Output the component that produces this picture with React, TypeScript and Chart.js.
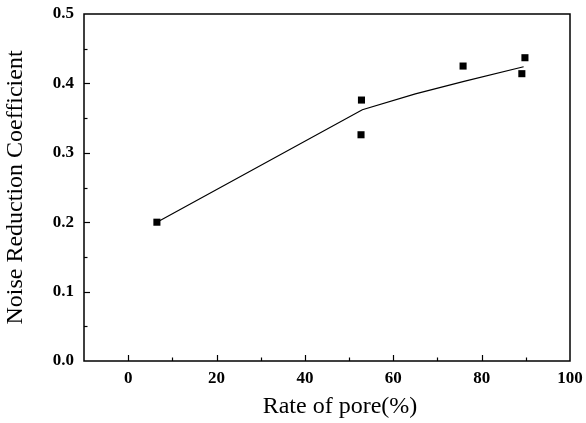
import React, { useEffect, useRef } from "react";
import { Chart, registerables } from "chart.js";

Chart.register(...registerables);

const poreRate = [6.5, 52.8, 52.7, 75.8, 89.1, 89.8];
const noiseCoef = [0.2, 0.376, 0.326, 0.425, 0.414, 0.437];
const fitX = [6.5, 53, 65, 76, 89.5];
const fitY = [0.2, 0.362, 0.385, 0.403, 0.424];
const xTicks = [0, 20, 40, 60, 80, 100];
const yTicks = [0.0, 0.1, 0.2, 0.3, 0.4, 0.5];
const xTitle = "Rate of pore(%)";
const yTitle = "Noise Reduction Coefficient";

const FONT = "'Liberation Serif', 'DejaVu Serif', serif";

const frame = {
  id: "frame",
  afterDatasetsDraw(chart: any) {
    const { ctx, chartArea: a, scales } = chart;
    ctx.save();
    ctx.strokeStyle = "#000";
    ctx.lineWidth = 1.5;
    ctx.strokeRect(a.left, a.top, a.right - a.left, a.bottom - a.top);
    ctx.lineWidth = 1.2;
    const xs = scales.x, ys = scales.y;
    for (let v = -10; v <= 100; v += 10) {
      if (v === -10 || v === 100) continue;
      const px = Math.round(xs.getPixelForValue(v)) + 0.5;
      const len = v % 20 === 0 ? 6 : 3.5;
      ctx.beginPath();
      ctx.moveTo(px, a.bottom);
      ctx.lineTo(px, a.bottom - len);
      ctx.stroke();
    }
    for (let i = 1; i < 10; i++) {
      const v = i * 0.05;
      const py = Math.round(ys.getPixelForValue(v)) + 0.5;
      const len = i % 2 === 0 ? 6 : 3.5;
      ctx.beginPath();
      ctx.moveTo(a.left, py);
      ctx.lineTo(a.left + len, py);
      ctx.stroke();
    }
    // x-axis title (slightly right of centre, as in the reference)
    ctx.fillStyle = "#000";
    ctx.font = `24px ${FONT}`;
    ctx.textAlign = "center";
    ctx.textBaseline = "alphabetic";
    ctx.fillText(xTitle, (a.left + a.right) / 2 + 13, 413);
    ctx.restore();
  },
};

export default function App() {
  const ref = useRef<HTMLCanvasElement>(null);
  useEffect(() => {
    document.body.style.margin = "0";
    const chart = new Chart(ref.current!, {
      type: "scatter",
      data: {
        datasets: [
          {
            type: "line",
            data: fitX.map((x, i) => ({ x, y: fitY[i] })),
            borderColor: "#000",
            borderWidth: 1.2,
            pointRadius: 0,
            tension: 0,
            fill: false,
          } as any,
          {
            data: poreRate.map((x, i) => ({ x, y: noiseCoef[i] })),
            pointStyle: "rect",
            pointRadius: 5,
            backgroundColor: "#000",
            borderColor: "#000",
            borderWidth: 0,
          },
        ],
      },
      options: {
        animation: false,
        responsive: false,
        layout: { padding: { top: 14, right: 16, left: 0, bottom: 0 } },
        plugins: { legend: { display: false }, tooltip: { enabled: false } },
        scales: {
          x: {
            type: "linear",
            min: -10,
            max: 100,
            grid: { display: false, drawTicks: false },
            border: { display: false },
            ticks: {
              stepSize: 10,
              padding: 7,
              color: "#000",
              font: { family: FONT, size: 17, weight: "bold" },
              callback: (v: any) => (xTicks.includes(v) ? String(v) : ""),
              maxRotation: 0,
              autoSkip: false,
            },
            title: { display: false },
            afterFit: (s: any) => {
              s.height = 62;
              s.paddingLeft = 0;
              s.paddingRight = 0;
            },
          },
          y: {
            type: "linear",
            min: 0,
            max: 0.5,
            grid: { display: false, drawTicks: false },
            border: { display: false },
            ticks: {
              stepSize: 0.05,
              padding: 10,
              color: "#000",
              font: { family: FONT, size: 17, weight: "bold" },
              callback: (v: any) => {
                const m = yTicks.find((t) => Math.abs(t - v) < 1e-6);
                return m !== undefined ? m.toFixed(1) : "";
              },
              autoSkip: false,
            },
            title: {
              display: true,
              text: yTitle,
              color: "#000",
              font: { family: FONT, size: 24 },
              padding: { top: 1, bottom: 4 },
            },
            afterFit: (s: any) => {
              s.width = 84;
              s.paddingTop = 0;
              s.paddingBottom = 0;
            },
          },
        },
      },
      plugins: [frame],
    });
    return () => chart.destroy();
  }, []);
  return <canvas ref={ref} width={586} height={423} style={{ display: "block" }} />;
}
